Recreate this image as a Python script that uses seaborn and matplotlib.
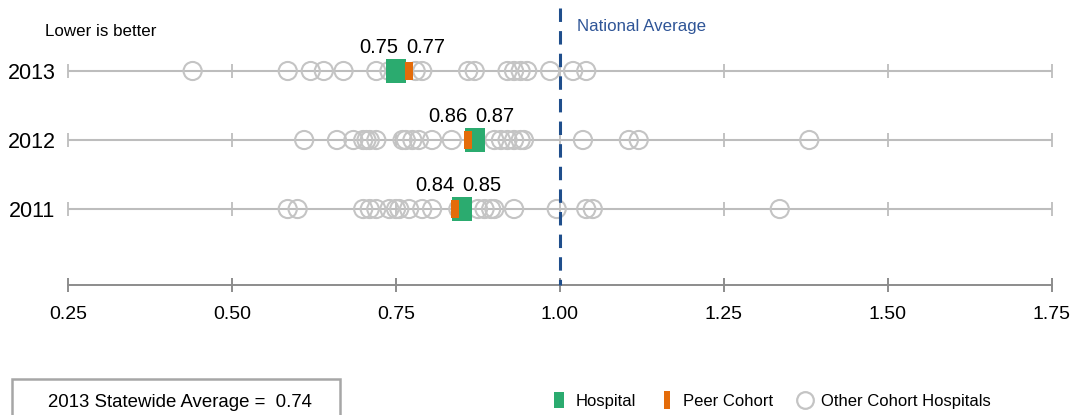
import pandas as pd
import seaborn as sns
import matplotlib.pyplot as plt
from matplotlib.lines import Line2D
from matplotlib.patches import Rectangle

# Data
years = ['2013', '2012', '2011']
hospital = [0.75, 0.87, 0.85]
peer_cohort = [0.77, 0.86, 0.84]
others_2013 = [0.44, 0.585, 0.62, 0.64, 0.67, 0.72, 0.74, 0.78, 0.79, 0.86, 0.87,
               0.92, 0.93, 0.94, 0.95, 0.985, 1.02, 1.04]
others_2012 = [0.61, 0.66, 0.685, 0.70, 0.705, 0.71, 0.72, 0.76, 0.765, 0.775, 0.785,
               0.805, 0.835, 0.90, 0.91, 0.92, 0.93, 0.94, 0.945, 1.035, 1.105, 1.12, 1.38]
others_2011 = [0.585, 0.60, 0.70, 0.71, 0.72, 0.74, 0.75, 0.755, 0.77, 0.79, 0.805,
               0.845, 0.875, 0.885, 0.895, 0.90, 0.93, 0.995, 1.04, 1.05, 1.335]
national_average = 1.00
statewide_label = '2013 Statewide Average =  0.74'
x_ticks = [0.25, 0.50, 0.75, 1.00, 1.25, 1.50, 1.75]

GREEN = '#2bab6f'
ORANGE = '#e46c0a'
CIRCLE = '#c4c4c4'
ROWLINE = '#bdbdbd'
NAVY = '#1f4e8c'

row_pos = {y: 3 - i for i, y in enumerate(years)}
others = pd.DataFrame({
    'year': ['2013'] * len(others_2013) + ['2012'] * len(others_2012) + ['2011'] * len(others_2011),
    'value': others_2013 + others_2012 + others_2011,
})
others['row'] = others['year'].map(row_pos)
marks = pd.DataFrame({'year': years, 'hospital': hospital, 'peer': peer_cohort})
marks['row'] = marks['year'].map(row_pos)


def rect_marker(w, h):
    return [(-w, -h), (w, -h), (w, h), (-w, h), (-w, -h)]


sns.set_style('white')
plt.rcParams['font.family'] = ['Liberation Sans Narrow', 'Liberation Sans', 'DejaVu Sans']
plt.rcParams['text.color'] = 'black'

fig = plt.figure(figsize=(10.72, 4.15), dpi=100)
ax = fig.add_axes([68 / 1072, (415 - 285) / 415, 984 / 1072, 277 / 415])
ax.set_xlim(x_ticks[0], x_ticks[-1])
ax.set_ylim(-0.101, 3.913)

# row lines with their own tick marks
for r in row_pos.values():
    ax.hlines(r, x_ticks[0], x_ticks[-1], color=ROWLINE, lw=1.5, zorder=1)
    ax.plot(x_ticks, [r] * len(x_ticks), ls='none', marker='|', ms=10.5, mew=1.3,
            color=ROWLINE, zorder=1, clip_on=False)

# other cohort hospitals
sns.scatterplot(data=others, x='value', y='row', marker='o', s=170,
                facecolors='none', edgecolor=CIRCLE, linewidth=1.5, ax=ax, zorder=3)

# hospital and peer cohort
sns.scatterplot(data=marks, x='hospital', y='row', marker=rect_marker(20, 23), s=275,
                color=GREEN, linewidth=0, ax=ax, zorder=4)
sns.scatterplot(data=marks, x='peer', y='row', marker=rect_marker(7.6, 18), s=169,
                color=ORANGE, linewidth=0, ax=ax, zorder=5)

# value labels: lower value on the left, higher on the right
for _, m in marks.iterrows():
    lo, hi = sorted([m['hospital'], m['peer']])
    mid = (lo + hi) / 2
    ax.annotate(f'{lo:.2f}', (mid, m['row']), xytext=(-17, 17), textcoords='offset points',
                ha='center', va='center', fontsize=14.5)
    ax.annotate(f'{hi:.2f}', (mid, m['row']), xytext=(17, 17), textcoords='offset points',
                ha='center', va='center', fontsize=14.5)

# national average
ylo, yhi = ax.get_ylim()
ax.plot([national_average, national_average], [yhi, ylo], color=NAVY, lw=2.2,
        dashes=(4.4, 3.0), zorder=6, clip_on=False)

# axes styling
for s in ['top', 'right', 'left']:
    ax.spines[s].set_visible(False)
ax.spines['bottom'].set_color('#8c8c8c')
ax.spines['bottom'].set_linewidth(1.4)
ax.set_xticks(x_ticks, [f'{t:.2f}' for t in x_ticks])
ax.tick_params(axis='x', direction='inout', length=10, width=1.4, color='#8c8c8c',
               pad=10, labelsize=14, labelcolor='black', bottom=True)
ax.set_yticks(list(row_pos.values()), list(row_pos.keys()))
ax.tick_params(axis='y', length=0, pad=9, labelsize=15.5, labelcolor='black')
ax.set_xlabel('')
ax.set_ylabel('')
ax.set_facecolor('none')

fig.text(45 / 1072, 1 - 32 / 415, 'Lower is better', ha='left', va='center', fontsize=12.2)
fig.text(577 / 1072, 1 - 26 / 415, 'National Average', ha='left', va='center',
         fontsize=12.2, color='#2f5597')

# statewide average box
fig.add_artist(Rectangle((12 / 1072, -0.05), 328 / 1072, 36 / 415 + 0.05,
                         transform=fig.transFigure, fill=False,
                         edgecolor='#a6a6a6', lw=1.8))
fig.text(180 / 1072, 1 - 402 / 415, statewide_label, ha='center', va='center', fontsize=13.4)

# legend
handles = [
    Line2D([], [], ls='none', marker=rect_marker(10, 15), ms=11, color=GREEN, mew=0),
    Line2D([], [], ls='none', marker=rect_marker(5, 18), ms=13, color=ORANGE, mew=0),
    Line2D([], [], ls='none', marker='o', ms=12, mfc='none', mec=CIRCLE, mew=1.6),
]
fig.legend(handles, ['Hospital', 'Peer Cohort', 'Other Cohort Hospitals'],
           loc='center left', bbox_to_anchor=(551 / 1072, 1 - 401 / 415), ncol=3,
           frameon=False, fontsize=12, handlelength=1.0, handletextpad=0.45,
           columnspacing=1.4, borderpad=0, borderaxespad=0)

fig.savefig('out.png', dpi=100)
